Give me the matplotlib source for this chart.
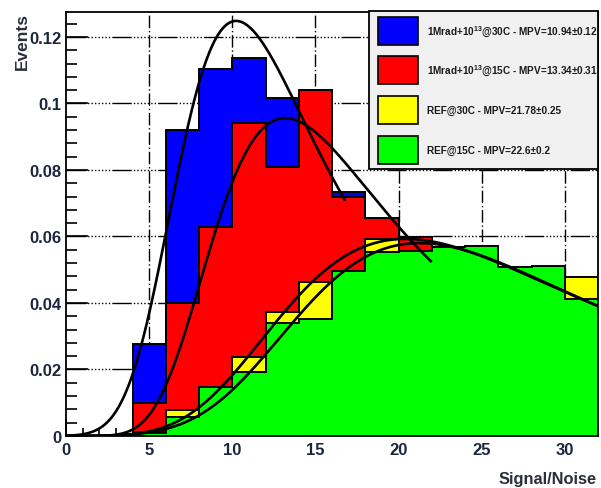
import numpy as np
import matplotlib
matplotlib.use("Agg")
import matplotlib.pyplot as plt
from matplotlib.patches import Rectangle
from matplotlib.ticker import MultipleLocator

plt.rcParams["font.family"] = ["Liberation Sans", "DejaVu Sans"]
plt.rcParams["mathtext.fontset"] = "custom"
plt.rcParams["mathtext.rm"] = "Liberation Sans:bold"
plt.rcParams["mathtext.it"] = "Liberation Sans:bold"
plt.rcParams["mathtext.bf"] = "Liberation Sans:bold"

# ---- histogram data: normalised entries in 2-unit S/N bins from 0 to 32 ----
bin_edges = np.arange(0, 34, 2)
irr_30C = [0, 0, 0.0277, 0.0920, 0.1104, 0.1136, 0.1016, 0.0980,
           0.0733, 0.0620, 0.0450, 0.0370, 0.0300, 0.0250, 0.0200, 0.0180]
irr_15C = [0, 0, 0.0099, 0.0400, 0.0628, 0.0940, 0.0809, 0.1040,
           0.0718, 0.0657, 0.0598, 0.0500, 0.0450, 0.0400, 0.0350, 0.0300]
ref_30C = [0, 0, 0.0012, 0.0078, 0.0140, 0.0237, 0.0372, 0.0464,
           0.0490, 0.0592, 0.0550, 0.0560, 0.0570, 0.0500, 0.0500, 0.0477]
ref_15C = [0, 0, 0.0010, 0.0057, 0.0146, 0.0193, 0.0340, 0.0352,
           0.0495, 0.0552, 0.0557, 0.0567, 0.0572, 0.0508, 0.0512, 0.0412]

labels = [r"1Mrad+10$^{13}$@30C - MPV=10.94±0.12",
          r"1Mrad+10$^{13}$@15C - MPV=13.34±0.31",
          "REF@30C - MPV=21.78±0.25",
          "REF@15C - MPV=22.6±0.2"]
colors = ["#0000ff", "#ff0000", "#ffff00", "#00ff00"]

# Landau (x) Gauss fit parameters: MPV, Landau width, Gauss sigma, area, fit range
fit_irr_30C = (9.9684, 2.8016, 1.2040, 2.01188, (0.0, 16.8))
fit_irr_15C = (13.1840, 3.6820, 0.0115, 1.94842, (0.0, 22.0))
fit_ref_30C = (20.4243, 6.2599, 0.0107, 2.05359, (0.0, 32.0))
fit_ref_15C = (20.9567, 5.9430, 1.8271, 1.94725, (0.0, 32.0))

x_ticks = [0, 5, 10, 15, 20, 25, 30]
y_ticks = [0, 0.02, 0.04, 0.06, 0.08, 0.10, 0.12]
y_tick_labels = ["0", "0.02", "0.04", "0.06", "0.08", "0.1", "0.12"]


# ---- Landau density from its integral representation ----
_t = np.concatenate([np.linspace(0, 1, 8001), np.linspace(1, 90, 60000)[1:]])
_tl = np.where(_t > 0, _t * np.log(np.where(_t > 0, _t, 1)), 0.0)
_lam = np.linspace(-3.8, 80, 3000)
_pdf = np.empty_like(_lam)
for i in range(0, len(_lam), 100):
    L = _lam[i:i + 100][:, None]
    integrand = np.exp(-_tl[None, :] - L * _t[None, :]) * np.sin(np.pi * _t)[None, :]
    _pdf[i:i + 100] = np.trapezoid(integrand, _t, axis=1) / np.pi
_pdf = np.clip(_pdf, 0, None)


def landau(lam):
    return np.interp(lam, _lam, _pdf, left=0.0, right=0.0)


_xg = np.arange(-15, 70, 0.02)


def langaus(x, mpv, width, sigma, area):
    sigma = abs(sigma) + 1e-3
    mpc = mpv + 0.22278298 * width
    f = landau((_xg - mpc) / width) / width
    k = np.arange(-6 * sigma, 6 * sigma + 0.02, 0.02)
    g = np.exp(-0.5 * (k / sigma) ** 2)
    g /= g.sum()
    fc = np.convolve(f, g, mode="same")
    return area * np.interp(x, _xg, fc)


# ---- figure ----
W, H = 601, 489
fig = plt.figure(figsize=(W / 100, H / 100), dpi=100)
ax = fig.add_axes([66 / W, 1 - 437 / H, (598 - 66) / W, (437 - 13) / H])
ax.set_xlim(0, 32)
ax.set_ylim(0, 0.1275)

# grid under the histograms
for xv in x_ticks[1:]:
    ax.axvline(xv, color="black", lw=1.0, ls=(0, (9, 2, 1, 2)), zorder=0.5)
for yv in y_ticks[1:]:
    ax.axhline(yv, color="black", lw=1.0,
               ls=(0, (14, 1.5, 1, 1.5, 1, 1.5, 1, 1.5, 1, 1.5, 1, 1.5, 1, 1.5, 1, 1.5)),
               zorder=0.5)

for vals, col, z in zip([irr_30C, irr_15C, ref_30C, ref_15C], colors, [1, 2, 3, 4]):
    ax.stairs(vals, bin_edges, fill=True, facecolor=col, edgecolor="black",
              lw=1.2, zorder=z)
    ax.stairs(vals, bin_edges, fill=False, color="black", lw=1.2, zorder=z + 0.1)

for mpv, wid, sig, area, (lo, hi) in [fit_irr_30C, fit_irr_15C, fit_ref_30C, fit_ref_15C]:
    xs = np.linspace(lo, hi, 600)
    ax.plot(xs, langaus(xs, mpv, wid, sig, area), color="black", lw=1.9,
            zorder=6, solid_capstyle="butt")

# axes frame and ticks
for s in ax.spines.values():
    s.set_linewidth(1.3)
    s.set_zorder(7)
ax.set_xticks(x_ticks)
ax.set_yticks(y_ticks)
ax.set_yticklabels(y_tick_labels)
ax.xaxis.set_minor_locator(MultipleLocator(1))
ax.yaxis.set_minor_locator(MultipleLocator(0.004))
tick_col = "#1c2540"
ax.tick_params(axis="both", which="both", direction="in", color="black",
               width=1.2, top=False, right=False)
ax.tick_params(axis="y", which="major", length=16, pad=3)
ax.tick_params(axis="y", which="minor", length=8)
ax.tick_params(axis="x", which="major", length=12, pad=4)
ax.tick_params(axis="x", which="minor", length=6)
for lab in ax.get_xticklabels() + ax.get_yticklabels():
    lab.set_fontsize(12)
    lab.set_fontweight("bold")
    lab.set_color(tick_col)

fig.text(22 / W, 1 - 13 / H, "Events", rotation=90, ha="center", va="top",
         fontsize=12.5, fontweight="bold", color="#2a2f3a")
fig.text(597 / W, 1 - 487 / H, "Signal/Noise", ha="right", va="bottom",
         fontsize=11.8, fontweight="bold", color="#2a2f3a")

# legend box
fig.add_artist(Rectangle((369 / W, 1 - 170 / H), (598 - 369) / W, (170 - 12) / H,
                         transform=fig.transFigure, facecolor="#f0f0f0",
                         edgecolor="black", lw=1.3, zorder=10))
patch_tops = [18, 57, 97, 137]
for top, col, lab in zip(patch_tops, colors, labels):
    fig.add_artist(Rectangle((378 / W, 1 - (top + 28) / H), 40 / W, 28 / H,
                             transform=fig.transFigure, facecolor=col,
                             edgecolor="black", lw=1.2, zorder=11))
    fig.text(427 / W, 1 - (top + 14) / H, lab, ha="left", va="center",
             fontsize=7.2, fontweight="bold", color="#1a1a1a", zorder=12)

fig.savefig("out.png", dpi=100)
